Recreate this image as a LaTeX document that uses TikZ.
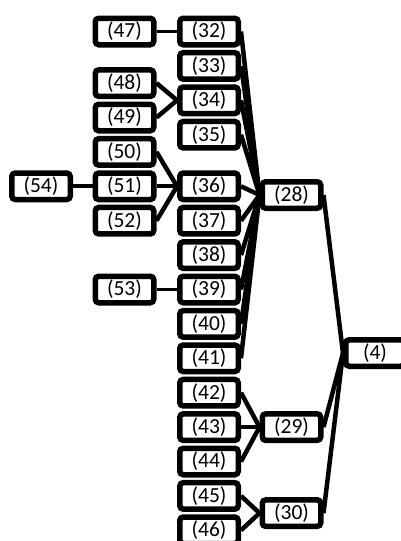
\documentclass[tikz,border=0pt]{standalone}
\usepackage{fontspec}
\setmainfont{Carlito}
\usetikzlibrary{backgrounds}
\begin{document}
\begin{tikzpicture}[x=1pt,y=-1pt,
  box/.style={draw=black, line width=5.5pt, rounded corners=3.5pt, fill=white,
    minimum width=58.5pt, minimum height=26.5pt, inner sep=0pt,
    font=\fontsize{21.5}{21.5}\selectfont},
  link/.style={line width=4.5pt, draw=black},
  thinlink/.style={line width=3.8pt, draw=black}]
\useasboundingbox (0,0) rectangle (400,541);
% column A
\node[box] (n32) at (209,31.5) {(32)};
\node[box] (n33) at (209,65.9) {(33)};
\node[box] (n34) at (209,100.3) {(34)};
\node[box] (n35) at (209,134.7) {(35)};
\node[box] (n36) at (209,186.3) {(36)};
\node[box] (n37) at (209,220.7) {(37)};
\node[box] (n38) at (209,255.1) {(38)};
\node[box] (n39) at (209,289.5) {(39)};
\node[box] (n40) at (209,323.9) {(40)};
\node[box] (n41) at (209,358.3) {(41)};
\node[box] (n42) at (209,392.7) {(42)};
\node[box] (n43) at (209,427.1) {(43)};
\node[box] (n44) at (209,461.5) {(44)};
\node[box] (n45) at (209,495.9) {(45)};
\node[box] (n46) at (209,530.3) {(46)};
% column B
\node[box] (n47) at (124.5,31.5) {(47)};
\node[box] (n48) at (124.5,83.1) {(48)};
\node[box] (n49) at (124.5,117.5) {(49)};
\node[box] (n50) at (124.5,151.9) {(50)};
\node[box] (n51) at (124.5,186.3) {(51)};
\node[box] (n52) at (124.5,220.7) {(52)};
\node[box] (n53) at (124.5,289.5) {(53)};
\node[box] (n54) at (41,186.3) {(54)};
% column C
\node[box] (n28) at (291.5,195) {(28)};
\node[box] (n29) at (291.5,427.1) {(29)};
\node[box] (n30) at (291.5,513.1) {(30)};
\node[box] (n4) at (375,353) {(4)};
\begin{scope}[on background layer]
\draw[thinlink] (n47.east) -- (n32.west);
\draw[thinlink] (n53.east) -- (n39.west);
\draw[thinlink] (n54.east) -- (n51.west);
\draw[link] (n48.east) -- (n34.west);
\draw[link] (n49.east) -- (n34.west);
\draw[link] (n50.east) -- (n36.west);
\draw[thinlink] (n51.east) -- (n36.west);
\draw[link] (n52.east) -- (n36.west);
\foreach \c in {n32,n33,n34,n35,n36,n37,n38,n39,n40,n41}
  \draw[link] (\c.east) -- (n28.west);
\foreach \c in {n42,n44}
  \draw[link] (\c.east) -- (n29.west);
\draw[thinlink] (n43.east) -- (n29.west);
\foreach \c in {n45,n46}
  \draw[link] (\c.east) -- (n30.west);
\foreach \c in {n28,n29,n30}
  \draw[link] (\c.east) -- (n4.west);
\end{scope}
\end{tikzpicture}
\end{document}
